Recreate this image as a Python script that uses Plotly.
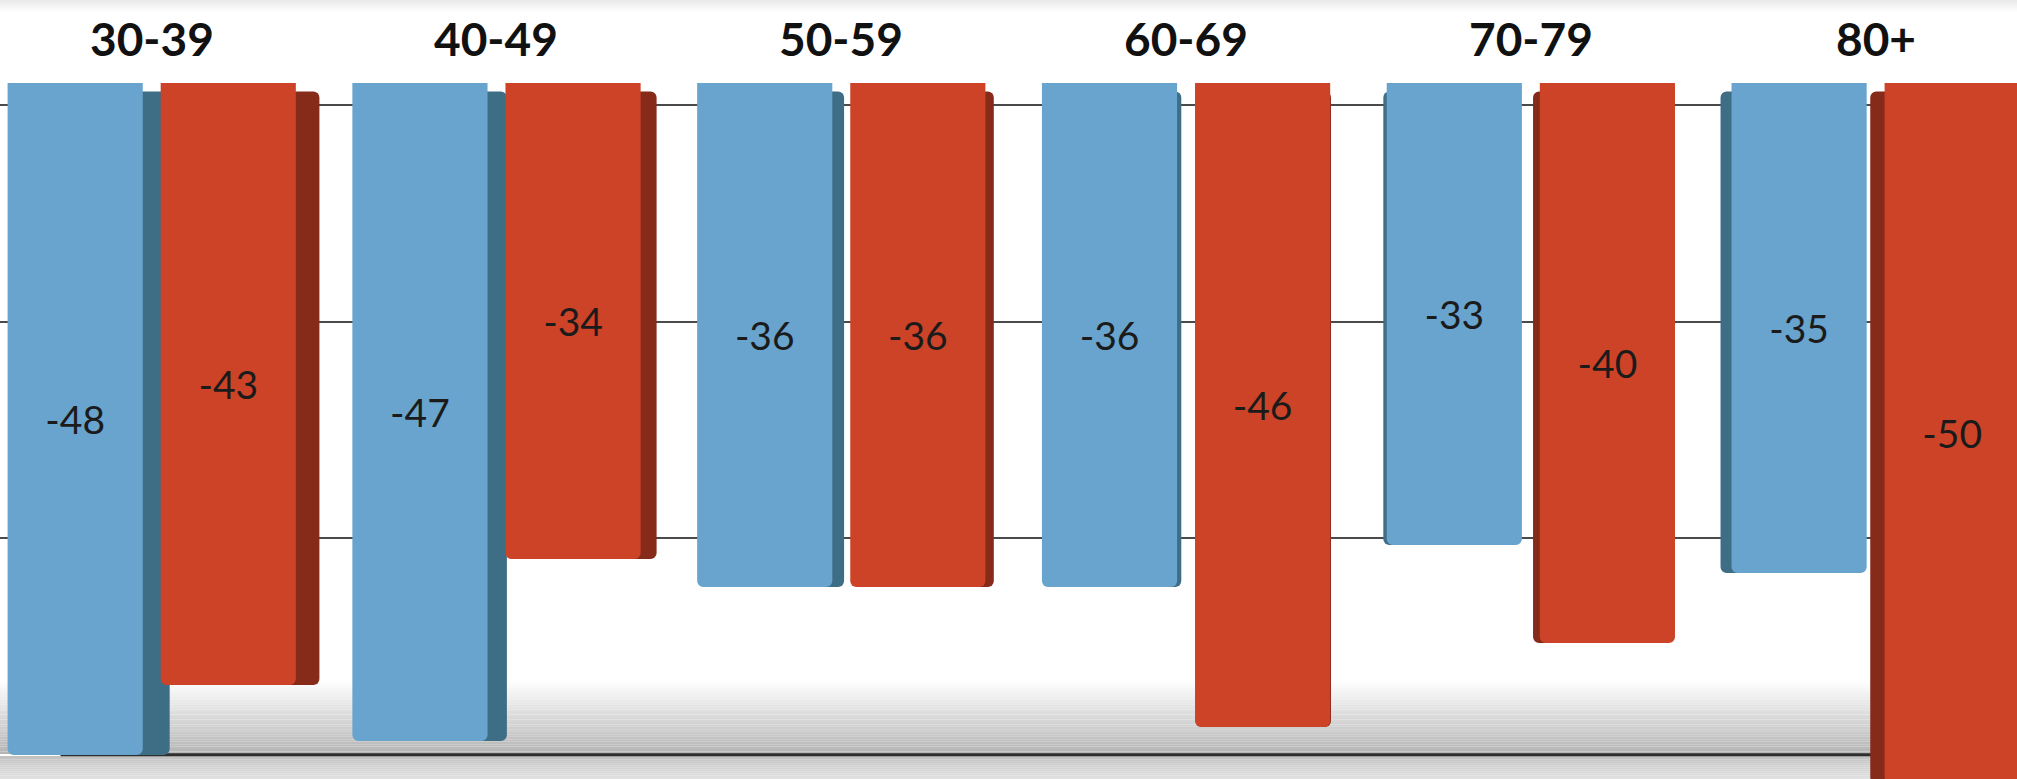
import plotly.graph_objects as go

# Age groups and the two series (change values)
age_groups = ["30-39", "40-49", "50-59", "60-69", "70-79", "80+"]
series_blue = [-48, -47, -36, -36, -33, -35]
series_red = [-43, -34, -36, -46, -40, -50]

# Styling
BLUE_FRONT = "#68a4cd"
BLUE_SIDE = "#3e6d86"
RED_FRONT = "#cd4328"
RED_SIDE = "#862a19"
FONT = "Lato, 'Open Sans', sans-serif"

W, H = 2017, 779
X_RANGE = [-0.44, 5.41]
Y_RANGE = [-49.71, 5.93]          # front (bar) scale
Y2_RANGE = [-46.68, 7.27]         # back-wall scale for the grid
BAR_W = 0.392
OFFSETS = {"blue": -0.418, "red": 0.026}
VANISH_X = 3.33                   # horizontal vanishing point, in category units
DEPTH = 0.022                     # how much side face shows per unit from vanishing point
SIDE_TOP = -0.6                   # side faces start a little below the front top


def side_offsets(front_offset):
    out = []
    for i in range(len(age_groups)):
        centre = i + front_offset + BAR_W / 2
        out.append(front_offset + DEPTH * (VANISH_X - centre))
    return out


fig = go.Figure()

specs = [
    ("blue", series_blue, BLUE_FRONT, BLUE_SIDE),
    ("red", series_red, RED_FRONT, RED_SIDE),
]

# side faces first so the fronts sit on top; they end where the front ends
for name, vals, front, side in specs:
    fig.add_trace(go.Bar(
        x=age_groups, y=[v - SIDE_TOP for v in vals], base=SIDE_TOP,
        offset=side_offsets(OFFSETS[name]), width=BAR_W,
        marker=dict(color=side, line=dict(width=0), cornerradius=6),
        hoverinfo="skip", showlegend=False,
    ))

for name, vals, front, side in specs:
    fig.add_trace(go.Bar(
        x=age_groups, y=vals,
        offset=OFFSETS[name], width=BAR_W,
        marker=dict(color=front, line=dict(width=0), cornerradius=6),
        text=[str(v) for v in vals], texttemplate="%{text}",
        textposition="inside", insidetextanchor="middle", textangle=0,
        constraintext="none",
        textfont=dict(family=FONT, size=39, color="#1b1b1b"),
        showlegend=False,
    ))

# carrier for the back-wall axis
fig.add_trace(go.Scatter(
    x=age_groups, y=[0] * len(age_groups), yaxis="y2", mode="markers",
    marker=dict(opacity=0), hoverinfo="skip", showlegend=False,
))

shapes = []


def band(y0_px, y1_px, c0, c1, steps):
    """Vertical gray gradient made of thin stacked rectangles (pixel rows)."""
    for k in range(steps):
        a = y0_px + (y1_px - y0_px) * k / steps
        b = y0_px + (y1_px - y0_px) * (k + 1) / steps
        t = (k + 0.5) / steps
        g = round(c0 + (c1 - c0) * t)
        shapes.append(dict(
            type="rect", xref="paper", yref="paper",
            x0=0, x1=1, y0=1 - b / H, y1=1 - a / H,
            fillcolor=f"rgb({g},{g},{g})", line=dict(width=0), layer="between",
        ))


# floor shadow above and below the floor edge
band(680, 754, 255, 180, 30)
band(756, 779, 192, 226, 12)
# faint shade along the top edge
band(0, 12, 232, 255, 6)

# floor edge line
shapes.append(dict(
    type="line", xref="paper", yref="y2", x0=0.03, x1=1, y0=-45, y1=-45,
    line=dict(color="#2e2e2e", width=3), layer="between",
))

annotations = [
    dict(x=g, y=1 - 38 / H, xref="x", yref="paper", text=g, showarrow=False,
         font=dict(family=FONT, size=46, color="#111111", weight="bold"),
         xanchor="center", yanchor="middle")
    for g in age_groups
]

fig.update_layout(
    width=W, height=H,
    margin=dict(l=0, r=0, t=0, b=0),
    paper_bgcolor="white", plot_bgcolor="white",
    barmode="overlay",
    shapes=shapes, annotations=annotations,
    xaxis=dict(range=X_RANGE, showgrid=False, showticklabels=False,
               zeroline=False, showline=False, ticks=""),
    yaxis=dict(range=Y_RANGE, showgrid=False, showticklabels=False,
               zeroline=False, showline=False, ticks=""),
    yaxis2=dict(range=Y2_RANGE, overlaying="y", side="right",
                tickvals=[0, -15, -30], showgrid=True,
                gridcolor="#4a4a4a", gridwidth=2,
                showticklabels=False, zeroline=False, showline=False, ticks=""),
)

fig.write_html("out.html")
